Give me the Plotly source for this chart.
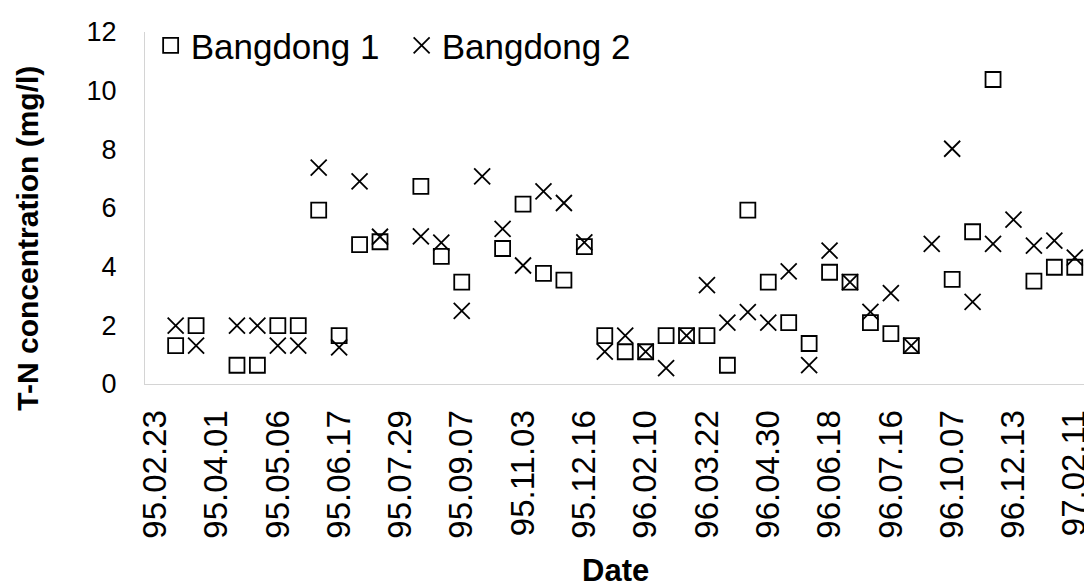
import plotly.graph_objects as go

# Category labels (shown on every 3rd sampling date)
tick_labels = ["95.02.23", "95.04.01", "95.05.06", "95.06.17", "95.07.29", "95.09.07",
               "95.11.03", "95.12.16", "96.02.10", "96.03.22", "96.04.30", "96.06.18",
               "96.07.16", "96.10.07", "96.12.13", "97.02.11"]

# T-N concentration (mg/l), one value per sampling date (None = no sample)
bangdong1 = [None, 1.31, 1.99, None, 0.64, 0.64, 1.99, 1.99, 5.93, 1.65,
             4.75, 4.85, None, 6.74, 4.35, 3.47, None, 4.62, 6.13, 3.77,
             3.54, 4.68, 1.65, 1.10, 1.10, 1.65, 1.65, 1.65, 0.64, 5.93,
             3.47, 2.09, 1.38, 3.81, 3.47, 2.09, 1.72, 1.31, None, 3.57,
             5.19, 10.38, None, 3.51, 3.98, 3.98]
bangdong2 = [None, 1.99, 1.31, None, 1.99, 1.99, 1.31, 1.31, 7.38, 1.25,
             6.91, 5.02, None, 5.03, 4.82, 2.49, 7.08, 5.29, 4.04, 6.57,
             6.17, 4.83, 1.10, 1.65, 1.10, 0.54, 1.65, 3.37, 2.09, 2.45,
             2.09, 3.84, 0.64, 4.55, 3.47, 2.46, 3.10, 1.31, 4.78, 8.02,
             2.80, 4.78, 5.60, 4.72, 4.89, 4.31]

n = len(bangdong1)
x_idx = list(range(n))
tick_vals = x_idx[::3]

FONT = "Liberation Sans, Arial, sans-serif"

fig = go.Figure()
fig.add_trace(go.Scatter(
    x=x_idx, y=bangdong1, mode="markers", name="Bangdong 1",
    marker=dict(symbol="square-open", size=15, color="black", line=dict(width=1.8, color="black")),
))
fig.add_trace(go.Scatter(
    x=x_idx, y=bangdong2, mode="markers", name="Bangdong 2",
    marker=dict(symbol="x-thin-open", size=16, color="black", line=dict(width=1.8, color="black")),
))

fig.update_layout(
    width=1092, height=587, autosize=False,
    margin=dict(l=137, r=8, t=20, b=211),
    paper_bgcolor="white", plot_bgcolor="white",
    font=dict(family=FONT, color="black"),
    showlegend=True,
    legend=dict(orientation="h", x=0.006, y=1.045, xanchor="left", yanchor="top",
                font=dict(size=35, family=FONT, color="black"),
                bgcolor="rgba(0,0,0,0)", itemwidth=30, tracegroupgap=0,
                entrywidth=206, entrywidthmode="pixels"),
    xaxis=dict(range=[-0.5, n - 0.5], tickmode="array", tickvals=tick_vals, ticktext=tick_labels,
               tickangle=-90, tickfont=dict(size=33, family=FONT), showgrid=False, zeroline=False,
               showline=True, linecolor="#d4d4d4", linewidth=1, ticks="", ticklabelstandoff=12),
    yaxis=dict(range=[0, 12], dtick=2, tickfont=dict(size=27, family=FONT), showgrid=False,
               zeroline=False, showline=True, linecolor="#d4d4d4", linewidth=1, ticks="",
               ticklabelstandoff=22),
    annotations=[
        dict(text="<b>Date</b>", xref="paper", yref="paper", x=0.5, y=0, yshift=-186,
             showarrow=False, font=dict(size=31, family=FONT, color="black"),
             xanchor="center", yanchor="middle"),
        dict(text="<b>T-N concentration (mg/l)</b>", xref="paper", yref="paper",
             x=0, xshift=-117, y=(376 - 229) / 356, textangle=-90,
             showarrow=False, font=dict(size=30, family=FONT, color="black"),
             xanchor="center", yanchor="middle"),
    ],
)

fig.write_html("out.html")
